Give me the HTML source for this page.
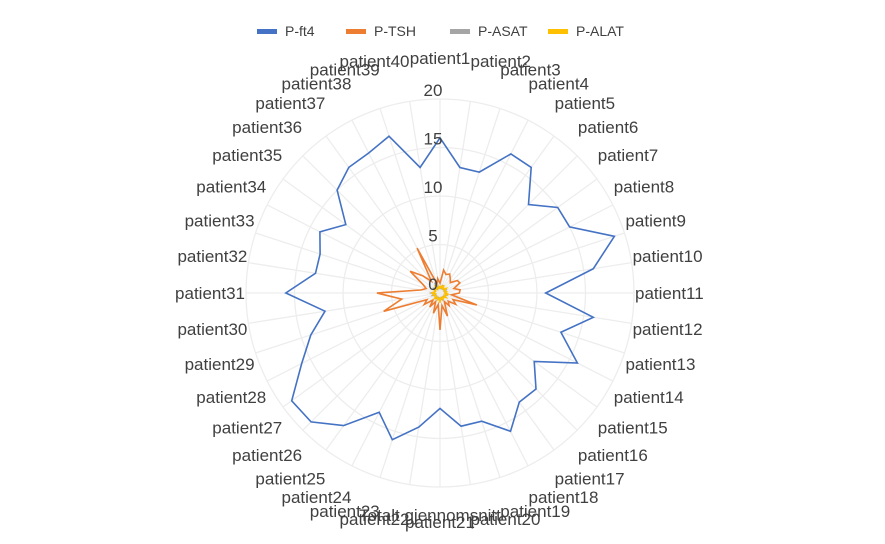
<!DOCTYPE html>
<html><head><meta charset="utf-8"><style>
html,body{margin:0;padding:0;background:#fff;}
svg{display:block;font-family:"Liberation Sans",Arial,sans-serif;}
</style></head><body>
<svg id="chart" width="885" height="544" viewBox="0 0 885 544" xmlns="http://www.w3.org/2000/svg">
<g id="legend">
 <g><rect x="257" y="29" width="20" height="5" fill="#4472C4"/><text x="285" y="36" font-size="14" fill="#404040">P-ft4</text></g>
 <g><rect x="346" y="29" width="20" height="5" fill="#ED7D31"/><text x="374" y="36" font-size="14" fill="#404040">P-TSH</text></g>
 <g><rect x="450" y="29" width="20" height="5" fill="#A5A5A5"/><text x="478" y="36" font-size="14" fill="#404040">P-ASAT</text></g>
 <g><rect x="548" y="29" width="20" height="5" fill="#FFC000"/><text x="576" y="36" font-size="14" fill="#404040">P-ALAT</text></g>
</g>
<g id="grid"></g>
<g id="series"></g>
<g id="ticks"></g>
<g id="labels"></g>
</svg>
<script>
const categories = Array.from({length:40},(_,i)=>'patient'+(i+1));
const ft4 = [16,13.1,13.1,16.1,16,12.9,15,15,18.9,16,10.9,16,13.1,15.9,12,14,13.9,16,13.9,13.9,11.9,14,15.9,13.8,16.9,18.8,18.9,16,14,12,15.9,13,13,13.9,12,15,16,16.2,17,13.1];
const tsh = [1.0,2.4,2.0,2.2,1.8,1.5,2.2,2.3,1.5,2.1,2.0,1.2,4.0,1.5,2.0,1.2,1.6,1.0,2.5,1.3,3.8,1.2,2.2,1.0,1.8,1.0,2.0,1.5,6.1,4.0,6.5,2.0,1.5,2.0,3.8,2.5,1.5,5.2,1.0,1.5];
const asat = [0.6,0.5,0.7,0.5,0.6,0.5,0.6,0.7,0.5,0.6,0.5,0.6,0.7,0.5,0.6,0.5,0.6,0.5,0.7,0.6,0.5,0.6,0.5,0.6,0.7,0.5,0.6,0.5,0.8,0.6,0.9,0.6,0.5,0.6,0.8,0.7,0.5,1.2,0.6,0.5];
const alat = [0.5,0.7,0.6,0.9,0.5,0.6,0.8,0.5,0.6,0.7,0.5,0.9,0.6,0.5,0.8,0.6,0.5,0.7,0.6,0.5,1.0,0.6,0.7,0.5,0.6,0.8,0.5,0.6,0.7,0.5,0.9,0.6,0.5,0.7,0.6,0.5,0.8,0.6,0.5,0.7];
const tickValues = [0,5,10,15,20];
const NS='http://www.w3.org/2000/svg';
const cx=440, cy=293, R=194, vmax=20;
const n=categories.length;
function ang(i){return i*2*Math.PI/n;}
function rad(v){return v/vmax*R;}
function pt(i,v){const a=ang(i),r=rad(v);return [cx+r*Math.sin(a),cy-r*Math.cos(a)];}
function mk(tag,attrs,parent){const e=document.createElementNS(NS,tag);for(const k in attrs)e.setAttribute(k,attrs[k]);parent.appendChild(e);return e;}
const grid=document.getElementById('grid');
tickValues.forEach(t=>{if(t===0)return;
 const c=mk('circle',{cx:cx,cy:cy,r:rad(t),fill:'none',stroke:'#ededed','stroke-width':1.3},grid);
 
 
});
for(let i=0;i<n;i++){const p=pt(i,vmax);
 const l=mk('line',{x1:cx,y1:cy,x2:p[0],y2:p[1],stroke:'#ededed','stroke-width':1.3},grid);
 
 
}
const ser=document.getElementById('series');
[[ft4,'#4472C4','p-ft4'],[tsh,'#ED7D31','p-tsh'],[asat,'#A5A5A5','p-asat'],[alat,'#FFC000','p-alat']].forEach(s=>{
 const pts=s[0].map((v,i)=>pt(i,v).map(x=>x.toFixed(1)).join(',')).join(' ');
 const pg=mk('polygon',{points:pts,fill:'none',stroke:s[1],'stroke-width':1.6,'stroke-linejoin':'miter'},ser);
 
 
});
const tk=document.getElementById('ticks');
tickValues.forEach(t=>{
 const tx=mk('text',{x:433,y:cy-rad(t)-3,'font-size':17,fill:'#404040','text-anchor':'middle'},tk);
 tx.textContent=t;
 
 
});
const lb=document.getElementById('labels');
for(let i=0;i<n;i++){
 const a=ang(i),s=Math.sin(a),c=Math.cos(a);
 const x=cx+195*s;
 let y=cy-195*c+(c>0?-40*c:-34*c);
 const anchor=s>0.02?'start':(s<-0.02?'end':'middle');
 const tx=mk('text',{x:x,y:y+6,'font-size':17,fill:'#404040','text-anchor':anchor},lb);
 tx.textContent=categories[i];
 
 
}
const extra=mk('text',{x:430,y:521,'font-size':17,fill:'#404040','text-anchor':'middle'},lb);
extra.textContent='Totalt gjennomsnitt';


</script>
</body></html>
